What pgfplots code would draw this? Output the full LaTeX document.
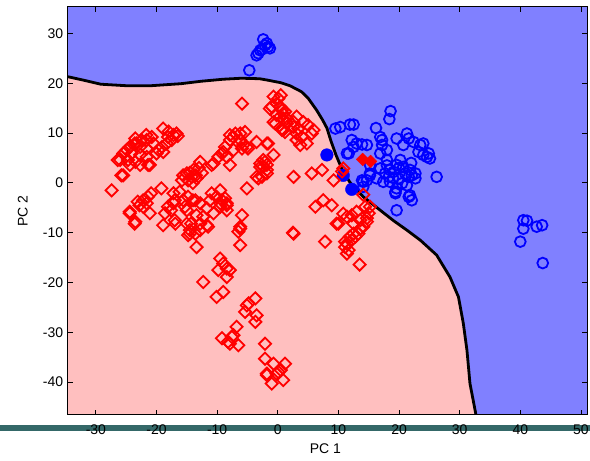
\documentclass[border=0pt]{standalone}
\usepackage{fontspec}
\setmainfont{Liberation Sans}
\usepackage{pgfplots}
\pgfplotsset{compat=1.18}
\definecolor{bgblue}{rgb}{0.5,0.5,1}
\definecolor{bgpink}{rgb}{1,0.75,0.75}
\definecolor{barteal}{RGB}{52,104,104}
\begin{document}
\fontsize{14}{17}\selectfont
\begin{tikzpicture}
\useasboundingbox (-68pt,-46pt) rectangle (522pt,415pt);
\fill[barteal] (-68pt,-10pt) rectangle (522pt,-16pt);
\begin{axis}[
 scale only axis, width=519pt, height=408pt,
 xmin=-34.6, xmax=51, ymin=-46.6, ymax=35.3,
 axis on top,
 axis background/.style={fill=bgblue},
 xtick={-30,-20,-10,0,10,20,30,40,50}, ytick={-40,-30,-20,-10,0,10,20,30},
 xticklabels={-30,-20,-10,0,10,20,30,40,50},
 yticklabels={-40,-30,-20,-10,0,10,20,30},
 tick align=inside, major tick length=5pt,
 tick style={line width=0.8pt, black},
 axis line style={line width=1pt},
 tick label style={font=\fontsize{14}{17}\selectfont},
 label style={font=\fontsize{14}{17}\selectfont},
 xticklabel style={yshift=-5pt},
 xlabel={PC 1}, ylabel={PC 2},
 xlabel style={at={(axis description cs:0.496,-0.0576)}, anchor=north},
 ylabel style={at={(axis description cs:-0.068,0.5)}, anchor=south},
]
% pink region
\addplot[draw=none, fill=bgpink, no marks] coordinates {
(-40,21.5)(-34.6,21.3)(-32,20.6)(-29.2,19.8)(-25,19.5)(-20.9,19.5)(-16,19.9)(-12.6,20.4)(-9,20.8)(-6.0,21.0)(-3,20.9)(-1.6,20.6)(0.5,20.1)(2.0,19.5)(3.9,18.3)(5.0,17.0)(6.4,14.6)(7.4,12.6)(8.1,11.0)(8.8,8.3)(9.6,5.6)(10.6,2.7)(11.9,0.1)(14.1,-2.8)(16.9,-5.5)(19.1,-7.6)(21.3,-9.5)(23.5,-11.5)(26.2,-14.5)(28.4,-18.9)(29.8,-22.9)(30.6,-28.2)(31.2,-33.6)(31.7,-40.3)(32.6,-46.0)(32.9,-48)(32.9,-50)(-40,-50)
};
% boundary
\addplot[black, line width=2.8pt, no marks] coordinates {
(-34.6,21.3)(-32,20.6)(-29.2,19.8)(-25,19.5)(-20.9,19.5)(-16,19.9)(-12.6,20.4)(-9,20.8)(-6.0,21.0)(-3,20.9)(-1.6,20.6)(0.5,20.1)(2.0,19.5)(3.9,18.3)(5.0,17.0)(6.4,14.6)(7.4,12.6)(8.1,11.0)(8.8,8.3)(9.6,5.6)(10.6,2.7)(11.9,0.1)(14.1,-2.8)(16.9,-5.5)(19.1,-7.6)(21.3,-9.5)(23.5,-11.5)(26.2,-14.5)(28.4,-18.9)(29.8,-22.9)(30.6,-28.2)(31.2,-33.6)(31.7,-40.3)(32.6,-46.0)(32.9,-48)
};
% blue circles
\addplot[only marks, mark=o, mark size=5.4pt, draw=blue, line width=1.8pt] coordinates {
(-4.7,22.6)(-3.5,25.6)(-3.2,26.0)(-2.9,26.6)(-2.4,28.8)(-2.1,27.6)(-1.6,27.3)(-1.3,27.0)(-1.8,28.0)(-2.6,26.8)
(18.6,14.4)(18.4,12.8)(9.5,10.9)(10.3,11.2)(11.9,11.7)(12.5,11.7)(16.2,11.0)(16.9,9.2)(17.2,7.6)(12.2,8.6)(13.0,7.9)(13.9,7.7)(14.7,7.6)(12.5,7.2)(11.7,5.9)(19.6,8.9)(21.3,9.9)(21.6,8.9)(22.4,8.2)(23.5,7.6)(24.0,7.9)(20.7,7.6)(18.0,6.6)(16.9,5.9)(23.2,6.2)(24.0,5.6)(24.6,5.2)(25.1,4.9)(24.9,5.9)(26.2,1.2)(20.2,4.6)(19.6,3.6)(19.1,2.2)(20.7,3.2)(21.0,1.9)(21.8,2.6)(22.7,1.9)(16.9,2.9)(17.7,1.9)(18.3,1.2)(18.5,2.6)(16.3,0.9)(15.2,1.5)(14.7,0.5)(13.9,0.5)(17.4,0.2)(18.5,0.2)(19.9,0.9)(20.5,-0.1)(21.3,-0.5)(19.6,-1.1)(19.4,-1.8)(21.6,-2.8)(22.1,-3.5)(22.1,1.5)(22.7,0.9)(21.6,1.2)(14.1,0.2)(15.2,3.6)(18.0,4.6)(14.1,-0.8)(15.2,1.9)(19.4,-2.1)(21.8,-2.5)(19.6,-5.5)(17.2,8.6)(22.0,4.0)(20.0,3.0)(19.0,1.0)(18.0,3.5)(11.4,5.9)
(40.5,-7.5)(41.1,-7.6)(40.5,-9.2)(42.7,-8.8)(43.6,-8.5)(40.0,-11.8)(43.7,-16.1)
};
% filled blue circles
\addplot[only marks, mark=*, mark size=6.3pt, draw=blue, fill=blue] coordinates {
(8.1,5.6)(10.8,1.5)(12.2,-1.3)
};
% red diamonds
\addplot[only marks, mark=square, mark size=4.3pt, draw=red, line width=1.8pt, mark options={rotate=45}] coordinates {
(-18.9,10.9)(-16.7,9.9)(-17.2,9.6)(-18.1,9.2)(-17.5,8.6)(-18.3,7.9)(-19.1,7.2)(-19.7,6.6)(-20.0,5.9)(-18.9,6.2)(-20.8,9.2)(-21.6,8.6)(-20.5,7.9)(-22.7,7.2)(-21.6,6.9)(-23.5,8.9)(-23.3,7.9)(-24.4,7.2)(-24.9,6.6)(-25.5,5.9)(-24.1,5.9)(-22.7,5.6)(-26.0,4.6)(-24.7,4.6)(-23.5,4.2)(-21.6,5.2)(-21.1,3.6)(-22.7,3.6)(-24.4,3.6)(-25.5,1.5)(-27.4,-1.5)(-21.7,9.6)(-22.5,8.6)(-23.6,7.9)(-25.2,6.2)(-26.4,4.6)(-25.8,1.5)(-21.4,3.6)(-18.0,10.3)(-16.5,9.4)
(-19.2,-1.1)(-20.9,-2.1)(-21.4,-2.8)(-22.2,-3.5)(-22.8,-4.5)(-23.1,-3.8)(-24.4,-5.8)(-23.6,-8.2)(-18.9,-8.5)(-17.0,-7.5)(-17.0,-3.5)(-17.6,-5.5)(-16.2,-1.8)(-15.3,-4.8)(-14.8,-2.8)(-14.0,-3.5)(-14.3,-8.2)(-14.8,-10.5)(-21.6,-4.1)(-22.2,-4.8)(-21.1,-6.1)(-24.4,-6.1)(-23.5,-7.8)(-17.2,-2.1)(-17.2,-4.1)(-18.1,-4.8)(-18.6,-6.1)(-15.6,-3.5)(-15.0,-5.5)(-13.6,-3.5)(-12.8,-4.1)(-16.9,-8.2)
(-13.4,-12.9)(-14.5,-10.2)(-12.8,-9.5)(-11.7,-8.5)(-13.4,-6.5)(-12.3,-6.8)(-12.8,-8.2)(-11.5,-8.8)(-14.5,-9.5)(-13.6,-10.2)(-15.0,-8.2)(-10.6,-6.1)(-11.7,-5.1)(-11.2,-3.5)(-9.5,-4.1)(-8.4,-4.5)(-8.7,-3.1)(-10.1,-2.8)(-9.5,-1.5)(-10.9,-2.1)(-9.2,-3.5)(-8.4,-4.1)(-9.5,-4.8)(-8.4,-5.5)
(-10.9,3.6)(-12.8,4.2)(-13.9,2.6)(-15.0,1.9)(-14.2,1.2)(-14.8,0.5)(-13.4,0.9)(-15.6,1.5)(-15.8,0.5)(-14.5,2.0)(-13.5,1.5)(-14.0,0.0)(-13.0,3.0)(-12.5,2.0)
(-10.6,3.9)(-9.8,5.2)(-9.0,6.2)(-7.9,8.6)(-7.3,9.2)(-6.2,9.9)(-5.4,10.2)(-5.1,7.2)(-7.3,6.6)(-7.9,9.6)(-7.0,9.9)(-6.2,8.6)(-5.7,7.6)(-4.9,6.9)(-8.7,7.2)(-9.2,5.9)(-8.4,5.2)(-7.9,3.6)(-5.9,6.9)
(-3.5,8.2)(-1.8,7.9)(-0.7,5.6)(-2.9,3.9)(-2.4,3.2)(-1.8,1.9)(-2.1,4.2)(-3.5,1.2)(-3.2,0.9)(-1.6,7.9)(-1.8,3.6)(-5.1,-1.1)(-5.9,15.9)
(-6.2,-12.5)(-6.2,-9.2)(-5.9,-6.5)(-6.2,-8.8)(-6.5,-9.8)
(-9.5,-15.2)(-9.0,-16.2)(-7.9,-17.5)(-8.4,-18.9)(-9.8,-17.5)(-8.4,-17.2)(-12.3,-19.9)(-10.1,-22.9)(-9.0,-21.9)(-3.7,-23.2)(-5.1,-24.6)(-5.4,-25.9)(-3.5,-26.6)(-3.7,-27.9)(-6.8,-28.9)(-4.8,-24.2)(-9.2,-31.2)(-8.2,-31.9)(-7.6,-30.9)(-6.5,-32.6)(-7.9,-32.3)(-7.3,-30.6)(-2.1,-32.3)(-2.1,-35.3)(-0.7,-36.3)(1.2,-36.3)(-1.8,-38.6)(-0.2,-38.3)(-1.0,-40.3)(0.9,-39.6)(0.5,-37.6)(-1.8,-38.3)(0.1,-38.0)
(0.5,17.6)(0.1,16.9)(-1.0,15.3)(0.4,15.3)(0.9,13.9)(-0.2,13.6)(1.5,12.9)(-0.4,11.9)(0.7,10.9)(2.6,11.2)(3.1,9.9)(1.2,10.2)(-0.7,17.3)(-0.2,15.9)(0.7,14.6)(-0.7,12.2)(0.9,12.9)(1.5,11.9)(0.7,10.6)(-1.3,14.9)(1.2,14.3)(0.4,13.3)(3.1,13.3)(4.2,12.2)(3.4,10.9)(2.6,12.2)(5.0,11.6)(5.9,10.6)(5.6,9.9)(4.0,9.2)(3.1,8.6)(3.7,7.6)(4.8,7.9)(0.9,10.6)(-2.4,4.6)(-2.9,3.2)(-1.8,2.6)(-2.6,1.2)
(2.6,1.2)(5.6,1.9)(7.3,2.6)(9.2,0.5)(10.8,2.9)(10.6,2.3)(14.1,-2.4)(6.2,-4.8)(7.5,-3.5)(8.9,-4.5)(9.7,-8.2)(10.8,-6.2)(11.4,-6.8)(12.2,-6.5)(13.0,-5.8)(12.5,-8.2)(13.6,-7.5)(14.1,-8.8)(14.7,-7.1)(15.0,-6.1)(15.2,-4.8)(14.4,-4.8)(13.3,-10.2)(12.5,-10.2)(13.6,-9.2)(2.6,-10.2)(7.8,-11.8)(11.1,-11.8)(11.7,-13.5)(11.4,-14.2)(11.9,-10.8)(12.8,-10.8)(13.5,-16.4)(10.0,-8.2)(11.4,-12.2)(11.1,-12.9)(12.2,-11.5)(14.7,-7.8)(2.5,-10.0)
};
% filled red diamonds
\addplot[only marks, mark=square*, mark size=4.5pt, draw=red, fill=red, mark options={rotate=45}] coordinates {
(14.0,4.7)(15.3,4.3)
};
\end{axis}
\end{tikzpicture}
\end{document}
